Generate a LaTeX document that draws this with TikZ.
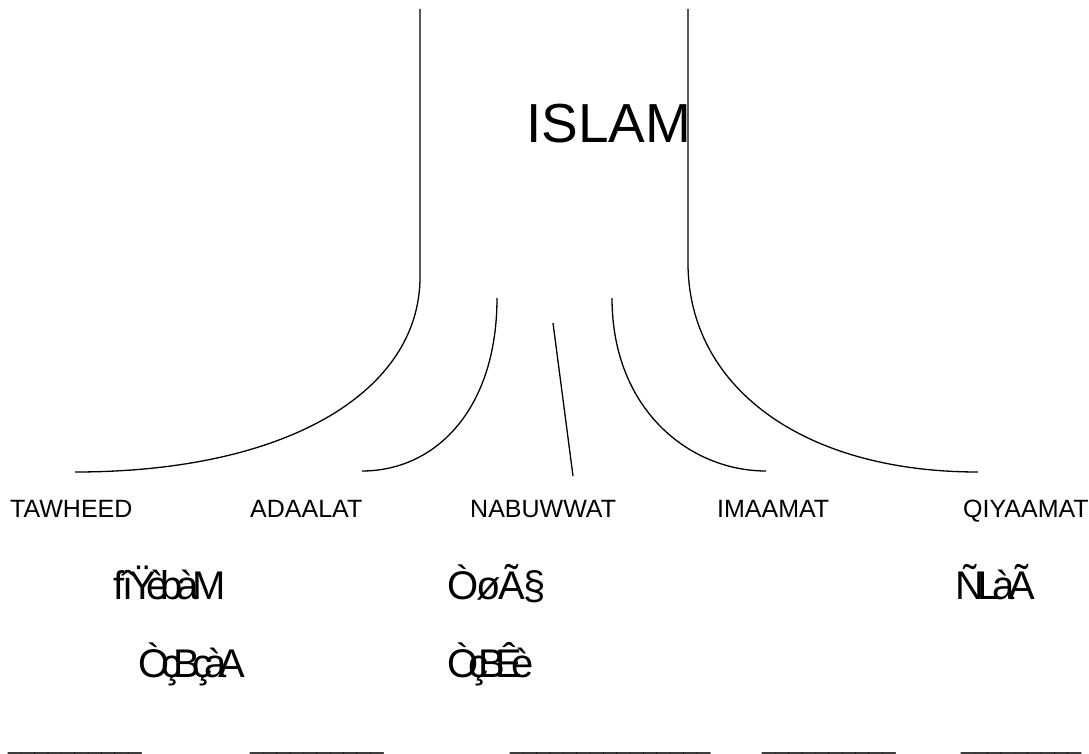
\documentclass[tikz,border=0pt]{standalone}
\usepackage{fontspec}
\setmainfont{Liberation Sans}
\begin{document}
\begin{tikzpicture}[x=1pt,y=-1pt,
  conn/.style={line width=1.3pt},
  lbl/.style={anchor=base west,inner sep=0pt,font=\fontsize{25}{28}\selectfont},
  garb/.style={anchor=base west,inner sep=0pt,font=\fontsize{40}{44}\selectfont},
  uline/.style={anchor=base west,inner sep=0pt,font=\fontsize{24}{28}\selectfont}]
\useasboundingbox (0,0) rectangle (1089,754);
% title
\node[anchor=base west,inner sep=0pt,font=\fontsize{55}{60}\selectfont] (islam) at (526,143) {ISLAM};
% stem and branch end points
\coordinate (ltop) at (420,9);
\coordinate (lbot) at (420,277);
\coordinate (rtop) at (688,9);
\coordinate (rbot) at (688,263);
\coordinate (t1) at (75,472);
\coordinate (i1) at (497,298);
\coordinate (t2) at (362,471);
\coordinate (m1) at (553,323);
\coordinate (t3) at (573,476);
\coordinate (i2) at (612,298);
\coordinate (t4) at (766,471);
\coordinate (t5) at (978,472);
\draw[conn] (ltop) -- (lbot) .. controls (420,390) and (290,472) .. (t1);
\draw[conn] (rtop) -- (rbot) .. controls (688,385) and (800,472) .. (t5);
\draw[conn] (i1) .. controls (497,410) and (435,471) .. (t2);
\draw[conn] (i2) .. controls (612,410) and (690,471) .. (t4);
\draw[conn] (m1) -- (t3);
% labels
\node[lbl] (tawheed) at (10,517) {TAWHEED};
\node[lbl] (adaalat) at (250,517) {ADAALAT};
\node[lbl] (nabuwwat) at (470,517) {NABUWWAT};
\node[lbl] (imaamat) at (717,517) {IMAAMAT};
\node[lbl] (qiyaamat) at (963,517) {QIYAAMAT};
% garbled texts
\node[garb] (g1) at (113,599) {f\kern-.05emî\kern-.1emŸ\kern-.25emè\kern-.2emb\kern-.15emà\kern-.15emM};
\node[garb] (g2) at (447,599) {Ò\kern-.05emø\kern-.05emÃ\kern-.05em§};
\node[garb] (g3) at (955,599) {Ñ\kern-.17emL\kern-.17emà\kern-.17emÃ};
\node[garb] (g4) at (138,677) {Ò\kern-.2emç\kern-.2emB\kern-.2emç\kern-.2emà\kern-.2emA};
\node[garb] (g5) at (447,677) {Ò\kern-.25emç\kern-.25emB\kern-.25emÊ\kern-.25emè};
% underscores
\node[uline] (u1) at (8,749) {\_\_\_\_\_\_\_\_\_\_};
\node[uline] (u2) at (250,749) {\_\_\_\_\_\_\_\_\_\_};
\node[uline] (u3) at (510,749) {\_\_\_\_\_\_\_\_\_\_\_\_\_\_\_};
\node[uline] (u4) at (762,749) {\_\_\_\_\_\_\_\_\_\_};
\node[uline] (u5) at (961,749) {\_\_\_\_\_\_\_\_\_};
\end{tikzpicture}
\end{document}
